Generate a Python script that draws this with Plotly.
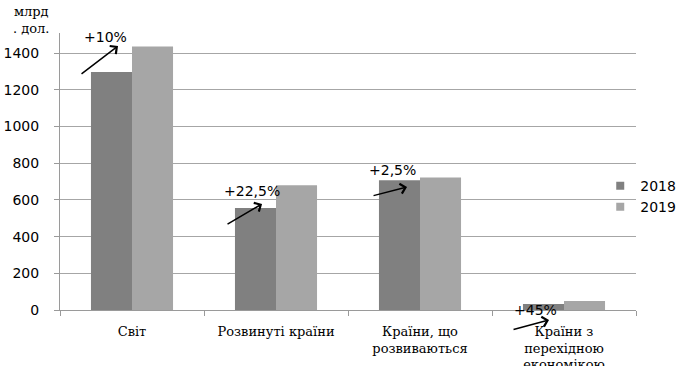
import plotly.graph_objects as go

categories = ["Світ", "Розвинуті країни", "Країни, що<br>розвиваються", "Країни з<br>перехідною<br>економікою"]
values_2018 = [1298, 556, 707, 33]
values_2019 = [1437, 680, 722, 49]
growth_labels = ["+10%", "+22,5%", "+2,5%", "+45%"]
y_ticks = [0, 200, 400, 600, 800, 1000, 1200, 1400]
series_names = ["2018", "2019"]
series_colors = ["#808080", "#a6a6a6"]

W, H = 679, 366
L, R, T, B = 60, 43, 33, 56
PW, PH = W - L - R, H - T - B

fig = go.Figure()
for name, vals, col in zip(series_names, [values_2018, values_2019], series_colors):
    fig.add_trace(go.Bar(name=name, x=categories, y=vals, marker_color=col,
                         marker_line_width=0, showlegend=False))
    fig.add_trace(go.Scatter(name=name, x=[None], y=[None], mode="markers",
                             marker=dict(symbol="square", size=8, color=col), showlegend=True))

# arrow annotations: (x offset from category, head y in paper, ax, ay)
arrow_heads = [(-0.097, 0.953, -38, 29), (-0.097, 0.383, -36, 21), (-0.09, 0.444, -35, 9), (-0.104, -0.036, -37, 10)]
text_pos = [(-0.1875, 0.986), (-0.167, 0.430), (-0.188, 0.505), (-0.2, 0.0)]
for i, ((dx, hy, ax, ay), (tx, ty), lab) in enumerate(zip(arrow_heads, text_pos, growth_labels)):
    fig.add_annotation(x=i + dx, y=hy, xref="x", yref="paper", ax=ax, ay=ay, text="",
                       showarrow=True, arrowhead=4, arrowsize=1.3, arrowwidth=1.5, arrowcolor="black")
    fig.add_annotation(x=i + tx, y=ty, xref="x", yref="paper", text=lab, showarrow=False,
                       xanchor="center", yanchor="middle",
                       font=dict(family="DejaVu Sans", size=14, color="black"))

fig.add_annotation(x=(31 - L) / PW, y=(310 - 20) / PH, xref="paper", yref="paper",
                   text="млрд<br>. дол.", showarrow=False, xanchor="center", yanchor="middle",
                   font=dict(family="DejaVu Serif", size=13, color="black"))

fig.update_layout(
    width=W, height=H,
    margin=dict(l=L, r=R, t=T, b=B, autoexpand=False),
    paper_bgcolor="white", plot_bgcolor="white",
    barmode="group", bargap=0.43, bargroupgap=0,
    showlegend=True,
    legend=dict(xref="container", yref="container", x=0.884, y=0.463, xanchor="left", yanchor="middle",
                itemwidth=30, font=dict(family="DejaVu Sans", size=14, color="black"),
                bgcolor="rgba(0,0,0,0)", tracegroupgap=0),
    xaxis=dict(showline=True, linecolor="#9a9a9a", linewidth=1, ticks="outside",
               tickson="boundaries", ticklen=5, tickcolor="#9a9a9a", automargin=False,
               tickfont=dict(family="DejaVu Serif", size=13, color="black"),
               tickangle=0, showgrid=False, ticklabelstandoff=9),
    yaxis=dict(range=[0, 1510], tickvals=y_ticks, showline=True, linecolor="#9a9a9a",
               ticks="outside", ticklen=5, tickcolor="#9a9a9a", automargin=False,
               showgrid=True, gridcolor="#a6a6a6", gridwidth=1, zeroline=False,
               tickfont=dict(family="DejaVu Sans", size=14, color="black"),
               ticklabelstandoff=12),
)

fig.write_html("out.html", config={"displayModeBar": False},
               post_script="document.body.style.margin='0';")
